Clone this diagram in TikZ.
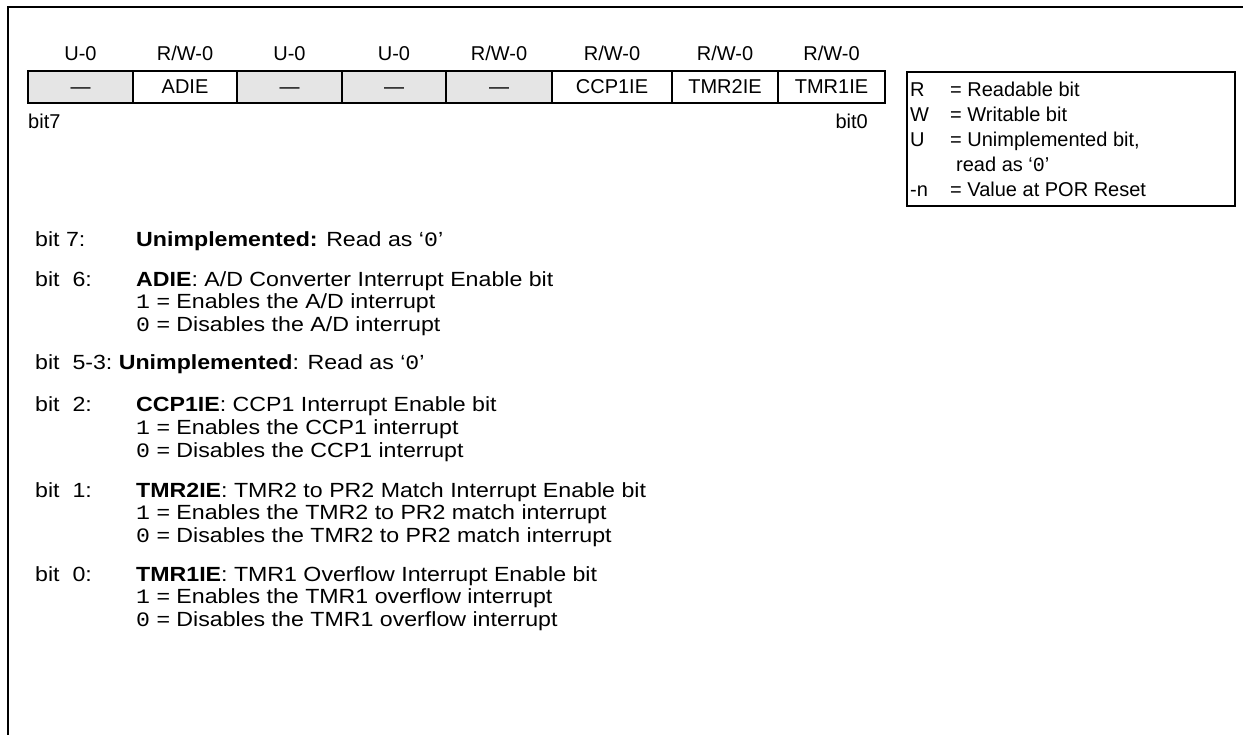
\documentclass[tikz,border=0pt]{standalone}
\usepackage{fontspec}
\setmainfont{Liberation Sans}
\newfontfamily\codefont{Liberation Mono}
\newfontfamily\bodyfont{Liberation Sans}[FakeStretch=1.13]
\newfontfamily\bodycode{Liberation Mono}[FakeStretch=1.13]
\definecolor{unimplgray}{gray}{0.9}

\begin{document}
\begin{tikzpicture}[x=1pt,y=-1pt,
  every node/.style={inner sep=0pt,font=\fontsize{20}{22}\selectfont},
  cell text/.style={anchor=base},
  body text/.style={anchor=base west,font=\bodyfont\fontsize{20.5}{22}\selectfont},
  key text/.style={anchor=base west,font=\fontsize{20}{22}\selectfont}]
  \useasboundingbox (0,0) rectangle (1243,735);
  \draw[line width=2pt] (1243,7) -- (8,7) -- (8,735);

  % register cells
  \fill[unimplgray] (28,71) rectangle (133,103);
  \fill[unimplgray] (237,71) rectangle (552,103);
  \draw[line width=1.8pt] (28,71) rectangle (885,103);
  \draw[line width=1.8pt] (133,71) -- (133,103);
  \draw[line width=1.8pt] (237,71) -- (237,103);
  \draw[line width=1.8pt] (342,71) -- (342,103);
  \draw[line width=1.8pt] (446,71) -- (446,103);
  \draw[line width=1.8pt] (552,71) -- (552,103);
  \draw[line width=1.8pt] (672,71) -- (672,103);
  \draw[line width=1.8pt] (778,71) -- (778,103);

  \node[cell text] (access 7) at (80.5,61) {U-0};
  \node[cell text] (access 6) at (185,61) {R/W-0};
  \node[cell text] (access 5) at (289.5,61) {U-0};
  \node[cell text] (access 4) at (394,61) {U-0};
  \node[cell text] (access 3) at (499,61) {R/W-0};
  \node[cell text] (access 2) at (612,61) {R/W-0};
  \node[cell text] (access 1) at (725,61) {R/W-0};
  \node[cell text] (access 0) at (831.5,61) {R/W-0};

  \node[cell text] (name 7) at (80.5,94) {—};
  \node[cell text] (name 6) at (185,94) {ADIE};
  \node[cell text] (name 5) at (289.5,94) {—};
  \node[cell text] (name 4) at (394,94) {—};
  \node[cell text] (name 3) at (499,94) {—};
  \node[cell text] (name 2) at (612,94) {CCP1IE};
  \node[cell text] (name 1) at (725,94) {TMR2IE};
  \node[cell text] (name 0) at (831.5,94) {TMR1IE};

  \node[key text] (msb) at (28,129) {bit7};
  \node[key text,anchor=base east] (lsb) at (868,129) {bit0};

  % legend
  \draw[line width=1.8pt] (907,72) rectangle (1235,206);
  \node[key text] (key r) at (910,97) {R};
  \node[key text] (key r text) at (950,97) {= Readable bit};
  \node[key text] (key w) at (910,122) {W};
  \node[key text] (key w text) at (950,122) {= Writable bit};
  \node[key text] (key u) at (910,147) {U};
  \node[key text] (key u text) at (950,147) {= Unimplemented bit,};
  \node[key text] (key u more) at (956,172) {read as ‘{\codefont 0}’};
  \node[key text] (key n) at (910,197) {-n};
  \node[key text] (key n text) at (950,197) {= Value at POR Reset};

  % bit descriptions
  \node[body text] (bit7 label) at (35,247) {bit 7:};
  \node[body text] (bit7 text) at (136,247) {\textbf{Unimplemented:} Read as ‘{\bodycode 0}’};

  \node[body text] (bit6 label) at (35,287) {bit~ 6:};
  \node[body text] (bit6 text) at (136,287) {\textbf{ADIE}: A/D Converter Interrupt Enable bit};
  \node[body text] (bit6 set) at (136,309) {{\bodycode 1} = Enables the A/D interrupt};
  \node[body text] (bit6 clr) at (136,332) {{\bodycode 0} = Disables the A/D interrupt};

  \node[body text] (bit53 label) at (35,370) {bit~ 5-3:};
  \node[body text] (bit53 text) at ([xshift=6pt]bit53 label.base east) {\textbf{Unimplemented}: Read as ‘{\bodycode 0}’};

  \node[body text] (bit2 label) at (35,412) {bit~ 2:};
  \node[body text] (bit2 text) at (136,412) {\textbf{CCP1IE}: CCP1 Interrupt Enable bit};
  \node[body text] (bit2 set) at (136,435) {{\bodycode 1} = Enables the CCP1 interrupt};
  \node[body text] (bit2 clr) at (136,457) {{\bodycode 0} = Disables the CCP1 interrupt};

  \node[body text] (bit1 label) at (35,497) {bit~ 1:};
  \node[body text] (bit1 text) at (136,497) {\textbf{TMR2IE}: TMR2 to PR2 Match Interrupt Enable bit};
  \node[body text] (bit1 set) at (136,519) {{\bodycode 1} = Enables the TMR2 to PR2 match interrupt};
  \node[body text] (bit1 clr) at (136,542) {{\bodycode 0} = Disables the TMR2 to PR2 match interrupt};

  \node[body text] (bit0 label) at (35,581) {bit~ 0:};
  \node[body text] (bit0 text) at (136,581) {\textbf{TMR1IE}: TMR1 Overflow Interrupt Enable bit};
  \node[body text] (bit0 set) at (136,603) {{\bodycode 1} = Enables the TMR1 overflow interrupt};
  \node[body text] (bit0 clr) at (136,626) {{\bodycode 0} = Disables the TMR1 overflow interrupt};
\end{tikzpicture}
\end{document}
